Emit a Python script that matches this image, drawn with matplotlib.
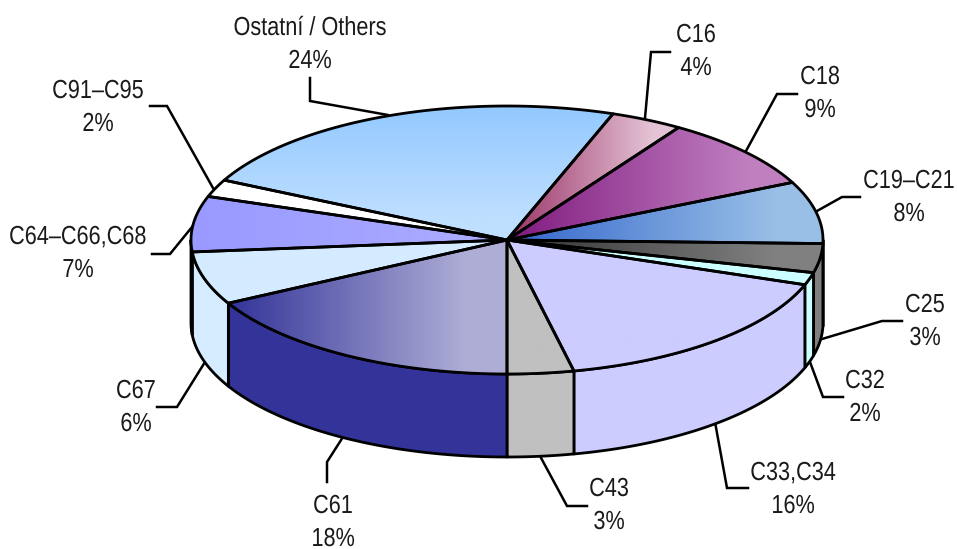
# 3D style pie of cancer shares, drawn by hand from ellipses
import numpy as np
import matplotlib
matplotlib.use("Agg")
import matplotlib.pyplot as plt
import matplotlib.patheffects as pe
from matplotlib.colors import to_rgb
from matplotlib.patches import Polygon
from matplotlib.transforms import Affine2D

plt.rcParams['font.family'] = ['Liberation Sans', 'DejaVu Sans']

# clockwise from the end of the Ostatni slice
categories = ["C16", "C18", "C19–C21", "C25", "C32", "C33,C34", "C43", "C61", "C67",
              "C64–C66,C68", "C91–C95", "Ostatní / Others"]
# wedge sizes, the printed labels are rounded differently
shares = [3.7, 8.8, 7.5, 3.5, 1.5, 16.2, 3.4, 17.2, 6.4, 6.7, 2.1, 23.1]
pct_labels = ["4%", "9%", "8%", "3%", "2%", "16%", "3%", "18%", "6%", "7%", "2%", "24%"]

top_from = ["#993366", "#801A80", "#3366CC", "#333333", "#CCFFFF", "#CCCCFF", "#C0C0C0",
            "#333399", "#D5EBFF", "#9999FF", "#FFFFFF", "#93C9FF"]
top_to = ["#E5C4D6", "#C080C0", "#99BFE6", "#808080", "#CCFFFF", "#CCCCFF", "#C0C0C0",
          "#ADADD6", "#D5EBFF", "#AAAAFF", "#FFFFFF", "#BFDFFF"]
side_colors = ["#E5C4D6", "#C080C0", "#808080", "#808080", "#CCFFFF", "#CCCCFF", "#C0C0C0",
               "#333399", "#D5EBFF", "#9999FF", "#FFFFFF", "#93C9FF"]

# layout in pixels
cx, cy = 507, 240
rx, ry = 316, 134
depth = 83
start_angle = 19.6
line_w = 2.0

leaders = {
    "C16": [(670, 52), (651, 52), (645, 118)],
    "C18": [(797, 94), (777, 94), (746, 151)],
    "C19–C21": [(860, 197), (842, 197), (817, 211)],
    "C25": [(902, 321), (882, 321), (822, 339)],
    "C32": [(843, 397), (823, 397), (810, 362)],
    "C33,C34": [(748, 488), (727, 488), (715, 422)],
    "C43": [(587, 506), (567, 506), (540, 456)],
    "C61": [(327, 482), (327, 462), (343, 437)],
    "C67": [(157, 407), (177, 407), (205, 362)],
    "C64–C66,C68": [(152, 254), (170, 254), (192, 227)],
    "C91–C95": [(150, 106), (167, 106), (213, 188)],
    "Ostatní / Others": [(310, 78), (310, 101), (388, 115)],
}
label_pos = {
    "C16": (696, 35), "C18": (820, 77), "C19–C21": (909, 181), "C25": (925, 305),
    "C32": (865, 381), "C33,C34": (793, 473), "C43": (609, 489), "C61": (333, 506),
    "C67": (136, 391), "C64–C66,C68": (78, 237), "C91–C95": (98, 91),
    "Ostatní / Others": (310, 28),
}


class Narrow(pe.AbstractPathEffect):
    # the reference font is a narrow one, squeeze the glyphs around the text centre
    def __init__(self, sx):
        super().__init__()
        self.sx = sx

    def draw_path(self, renderer, gc, tpath, affine, rgbFace=None):
        ext = tpath.get_extents()
        mid = (ext.x0 + ext.x1) / 2
        squeeze = Affine2D().translate(-mid, 0).scale(self.sx, 1).translate(mid, 0)
        renderer.draw_path(gc, tpath, squeeze + affine, rgbFace)


def arc(a, b):
    t = np.radians(np.linspace(a, b, 80))
    return np.column_stack([cx + rx * np.sin(t), cy - ry * np.cos(t)])


def gradient(c1, c2, n=256):
    c1, c2 = np.array(to_rgb(c1)), np.array(to_rgb(c2))
    t = np.minimum(np.linspace(0, 1, n) / 0.85, 1)
    return c1 + (c2 - c1) * t[:, None]


fig = plt.figure(figsize=(9.57, 5.49), dpi=100)
ax = fig.add_axes([0, 0, 1, 1])

sizes = np.array(shares) / sum(shares) * 360
ends = start_angle + np.cumsum(sizes)
starts = ends - sizes

# side wall, only the front half of the disc shows
for a, b, col in zip(starts, ends, side_colors):
    a2, b2 = max(a, 90), min(b, 270)
    if a2 >= b2:
        continue
    upper = arc(a2, b2)
    lower = upper[::-1] + [0, depth]
    ax.add_patch(Polygon(np.vstack([upper, lower]), closed=True, facecolor=col,
                         edgecolor="black", lw=line_w, joinstyle="round", zorder=2))

# top of the disc
for i, (a, b) in enumerate(zip(starts, ends)):
    pts = np.vstack([[cx, cy], arc(a, b)])
    edge = Polygon(pts, closed=True, facecolor="none", edgecolor="black", lw=line_w,
                   joinstyle="round", zorder=4)
    ax.add_patch(edge)
    x0, x1 = pts[:, 0].min(), pts[:, 0].max()
    y0, y1 = pts[:, 1].min(), pts[:, 1].max()
    grad = gradient(top_from[i], top_to[i])
    if categories[i].startswith("Ostatn"):
        img = grad[:, None, :]
    else:
        img = grad[None, :, :]
    im = ax.imshow(img, extent=[x0, x1, y1, y0], origin="upper", aspect="auto",
                   interpolation="bilinear", zorder=3)
    im.set_clip_path(Polygon(pts, closed=True, transform=ax.transData))

# leader lines and labels
squeeze = [Narrow(0.83)]
for name, pct in zip(categories, pct_labels):
    xs, ys = zip(*leaders[name])
    ax.plot(xs, ys, color="black", lw=1.8, solid_joinstyle="miter", zorder=1)
    lx, ly = label_pos[name]
    ax.text(lx, ly, name, ha="center", va="center", fontsize=18.8, color="#1A1A1A",
            path_effects=squeeze)
    ax.text(lx, ly + 33, pct, ha="center", va="center", fontsize=18.8, color="#1A1A1A",
            path_effects=squeeze)

ax.set_xlim(0, 957)
ax.set_ylim(549, 0)
ax.axis("off")
fig.savefig("out.png", dpi=100, facecolor="white")
